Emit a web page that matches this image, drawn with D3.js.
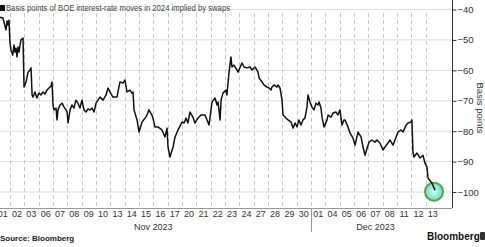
<!DOCTYPE html>
<html>
<head>
<meta charset="utf-8">
<script src="https://cdn.jsdelivr.net/npm/d3@7"></script>
<style>
  body { margin: 0; background: #fff; }
  text { font-family: "Liberation Sans", Arial, sans-serif; }
</style>
</head>
<body>
<div id="chart"></div>
<script>
// trading days shown on the x axis
const dayLabels = ["01","02","03","06","07","08","09","10","13","14","15","16","17","20","21","22","23","24","27","28","29","30",
                   "01","04","05","06","07","08","11","12","13"];
const monthLabels = ["Nov 2023", "Dec 2023"];
const monthStart = [0, 22];
const monthEnd = [22, 31];
const yTicks = [-40, -50, -60, -70, -80, -90, -100];

// position in trading days (0 = start of 01 Nov) and basis points priced for 2024
const tDay = [0.31,0.52,0.73,0.80,0.87,0.94,1.01,1.08,1.20,1.29,1.36,1.43,1.50,1.57,1.64,1.71,1.78,1.92,1.99,2.13,
  2.27,2.41,2.48,2.55,2.62,2.75,2.89,3.03,3.17,3.31,3.45,3.59,3.73,3.87,3.94,4.01,4.08,4.22,4.29,4.36,
  4.50,4.64,4.78,4.92,4.99,5.06,5.20,5.33,5.47,5.61,5.75,5.89,6.03,6.17,6.31,6.45,6.59,6.73,6.87,7.01,
  7.15,7.29,7.50,7.71,7.85,7.98,8.19,8.47,8.68,8.89,9.03,9.17,9.38,9.52,9.59,9.66,9.87,10.01,10.22,10.43,
  10.56,10.70,10.91,10.98,11.12,11.33,11.61,11.82,11.96,12.03,12.17,12.38,12.52,12.73,13.01,13.15,13.29,13.42,13.56,13.77,
  13.91,14.12,14.33,14.61,14.75,14.89,15.10,15.31,15.45,15.52,15.66,15.73,15.86,16.07,16.14,16.28,16.42,16.49,16.63,16.84,
  16.91,17.19,17.33,17.54,17.75,17.89,18.10,18.31,18.38,18.58,18.72,18.93,19.07,19.21,19.28,19.42,19.63,19.70,19.84,19.98,
  20.05,20.26,20.40,20.61,20.75,20.89,21.03,21.16,21.30,21.44,21.58,21.72,21.79,21.93,22.07,22.21,22.35,22.49,22.56,22.70,
  22.77,22.91,23.12,23.19,23.40,23.54,23.74,23.88,24.02,24.16,24.30,24.37,24.58,24.72,24.93,25.07,25.28,25.49,25.63,25.77,
  25.91,26.05,26.25,26.46,26.60,26.81,27.02,27.16,27.37,27.51,27.72,27.86,28.07,28.28,28.42,28.63,28.77,28.97,29.04,29.11,
  29.18,29.39,29.60,29.81,29.95,30.09,30.16,30.44,30.65];
const bp = [-42.5,-42.8,-46.7,-43.8,-45.1,-43.5,-51.0,-53.3,-55.0,-51.7,-54.0,-52.7,-55.6,-52.3,-54.0,-51.7,-50.0,-49.4,-65.5,-63.8,
  -60.6,-59.9,-59.2,-68.1,-68.8,-67.1,-69.1,-67.5,-68.1,-67.1,-67.8,-66.5,-65.8,-65.2,-63.8,-71.4,-73.0,-72.4,-76.3,-73.0,
  -71.4,-70.8,-72.1,-73.0,-73.7,-77.3,-73.0,-71.4,-72.4,-69.8,-70.8,-72.4,-69.8,-73.0,-73.7,-72.7,-73.0,-72.4,-73.7,-70.8,
  -69.8,-68.8,-69.8,-68.1,-65.8,-67.1,-68.8,-68.8,-63.8,-64.2,-63.2,-67.1,-66.5,-67.5,-67.1,-73.0,-76.3,-80.3,-77.0,-75.7,
  -74.7,-73.0,-74.7,-75.7,-78.6,-78.6,-79.6,-81.9,-79.0,-85.2,-88.5,-85.2,-81.9,-79.6,-77.0,-77.3,-75.7,-77.3,-73.7,-75.4,
  -77.3,-75.7,-74.7,-74.7,-76.3,-78.0,-70.4,-69.1,-71.4,-70.4,-76.3,-69.8,-67.5,-66.5,-68.1,-60.9,-55.6,-58.9,-58.3,-59.9,
  -60.6,-57.6,-58.9,-59.2,-58.9,-59.9,-58.9,-60.6,-62.5,-63.8,-64.8,-65.5,-65.8,-66.5,-65.5,-64.8,-65.5,-64.8,-65.8,-69.8,
  -74.7,-75.7,-76.3,-77.0,-79.0,-77.3,-78.6,-76.3,-78.0,-76.3,-75.7,-72.1,-68.1,-70.4,-72.1,-73.0,-70.8,-71.4,-70.4,-72.4,
  -75.4,-78.6,-76.3,-74.7,-75.4,-74.0,-73.7,-74.7,-73.0,-78.0,-76.3,-76.3,-78.6,-80.6,-82.3,-84.6,-80.3,-81.9,-85.2,-87.9,
  -85.6,-83.6,-82.9,-83.6,-82.9,-83.9,-86.2,-85.2,-83.9,-82.9,-84.6,-82.9,-80.3,-79.6,-80.3,-78.0,-77.3,-77.0,-76.3,-86.9,
  -88.5,-87.2,-88.8,-87.9,-90.5,-91.8,-95.4,-97.1,-99.4];

const width = 485, height = 247;
const plotLeft = 0, plotRight = 452, plotTop = 0, plotBottom = 208;

const svg = d3.select('#chart').append('svg')
  .attr('width', width)
  .attr('height', height);

svg.append('rect').attr('width', width).attr('height', height).attr('fill', '#fff');

const x = d3.scaleLinear().domain([0, 31]).range([-4.5, 440.04]);
const y = d3.scaleLinear().domain([-40, -100]).range([9.5, 192]);

// horizontal gridlines
svg.append('g').selectAll('line')
  .data(yTicks)
  .enter().append('line')
    .attr('x1', plotLeft).attr('x2', plotRight)
    .attr('y1', d => y(d)).attr('y2', d => y(d))
    .attr('stroke', '#dcdcdc').attr('stroke-width', 1);

// dashed day separators
svg.append('g').selectAll('line')
  .data(d3.range(1, 31))
  .enter().append('line')
    .attr('x1', d => Math.round(x(d)) + 0.5).attr('x2', d => Math.round(x(d)) + 0.5)
    .attr('y1', 13).attr('y2', plotBottom)
    .attr('stroke', '#c8c8c8').attr('stroke-width', 1)
    .attr('stroke-dasharray', '4,3');

// title
svg.append('rect').attr('x', 0).attr('y', 5).attr('width', 5).attr('height', 6).attr('fill', '#111');
svg.append('text')
  .attr('x', 6).attr('y', 11)
  .attr('font-size', 8.5)
  .attr('fill', '#444')
  .attr('textLength', 224)
  .attr('lengthAdjust', 'spacingAndGlyphs')
  .text('Basis points of BOE interest-rate moves in 2024 implied by swaps');

// end-point marker
const defs = svg.append('defs');
const grad = defs.append('radialGradient').attr('id', 'glow');
grad.append('stop').attr('offset', '0%').attr('stop-color', '#c8fff4');
grad.append('stop').attr('offset', '100%').attr('stop-color', '#72dcc0');
defs.append('clipPath').attr('id', 'plotClip')
  .append('rect').attr('x', plotLeft).attr('y', 0).attr('width', plotRight - plotLeft).attr('height', plotBottom);

const last = tDay.length - 1;
svg.append('circle')
  .attr('cx', x(tDay[last]) - 1)
  .attr('cy', y(bp[last]) + 1.5)
  .attr('r', 9)
  .attr('fill', 'url(#glow)')
  .attr('stroke', '#4fa64f')
  .attr('stroke-width', 2);

// the line
const series = tDay.map((t, i) => ({t: t, v: bp[i]}));
svg.append('path')
  .datum(series)
  .attr('clip-path', 'url(#plotClip)')
  .attr('fill', 'none')
  .attr('stroke', '#111')
  .attr('stroke-width', 1.5)
  .attr('stroke-linejoin', 'round')
  .attr('d', d3.line().x(d => x(d.t)).y(d => y(d.v)));

// right axis
svg.append('line')
  .attr('x1', plotRight + 0.5).attr('x2', plotRight + 0.5)
  .attr('y1', 0).attr('y2', plotBottom)
  .attr('stroke', '#333');
const yAxis = svg.append('g')
  .attr('transform', 'translate(' + (plotRight + 0.5) + ',0)')
  .call(d3.axisRight(y).tickValues(yTicks).tickSize(4).tickPadding(1));
yAxis.select('.domain').remove();
yAxis.selectAll('line').attr('stroke', '#333');
yAxis.selectAll('text').attr('font-size', 9.5).attr('fill', '#333').attr('font-family', '"Liberation Sans", Arial, sans-serif');

svg.append('text')
  .attr('transform', 'translate(477,108) rotate(90)')
  .attr('text-anchor', 'middle')
  .attr('font-size', 9.5)
  .attr('fill', '#333')
  .text('Basis points');

// bottom axis
svg.append('line')
  .attr('x1', plotLeft).attr('x2', plotRight)
  .attr('y1', plotBottom + 0.5).attr('y2', plotBottom + 0.5)
  .attr('stroke', '#999');

svg.append('g').selectAll('text')
  .data(dayLabels)
  .enter().append('text')
    .attr('x', (d, i) => x(i + 0.5))
    .attr('y', 217)
    .attr('text-anchor', 'middle')
    .attr('font-size', 9)
    .attr('fill', '#333')
    .text(d => d);

svg.append('g').selectAll('text')
  .data(monthLabels)
  .enter().append('text')
    .attr('x', (d, i) => x((monthStart[i] + monthEnd[i]) / 2))
    .attr('y', 229.5)
    .attr('text-anchor', 'middle')
    .attr('font-size', 9)
    .attr('fill', '#333')
    .text(d => d);

// month separator
svg.append('line')
  .attr('x1', Math.round(x(monthStart[1])) + 0.5).attr('x2', Math.round(x(monthStart[1])) + 0.5)
  .attr('y1', plotBottom).attr('y2', 232)
  .attr('stroke', '#999');

// footer
svg.append('text')
  .attr('x', 0).attr('y', 241)
  .attr('font-size', 8)
  .attr('font-weight', 'bold')
  .attr('fill', '#222')
  .text('Source: Bloomberg');

svg.append('text')
  .attr('x', 427).attr('y', 240)
  .attr('font-size', 10)
  .attr('font-weight', 'bold')
  .attr('fill', '#111')
  .text('Bloomberg');
svg.append('rect')
  .attr('x', 480).attr('y', 232).attr('width', 6).attr('height', 8)
  .attr('rx', 1)
  .attr('fill', '#333');
</script>
</body>
</html>
